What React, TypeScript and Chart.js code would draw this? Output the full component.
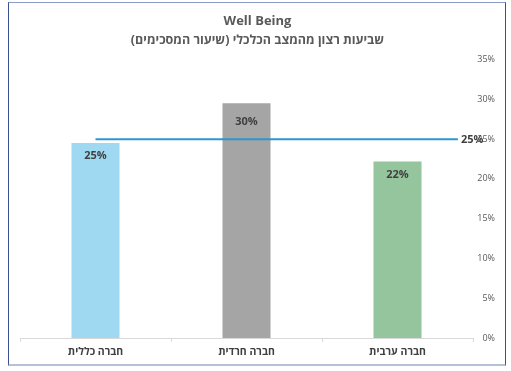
import React, { useEffect, useRef } from "react";
import { Chart, registerables } from "chart.js";

Chart.register(...registerables);

const titleText = "Well Being";
const subtitleText = "שביעות רצון מהמצב הכלכלי (שיעור המסכימים)";
const categories = ["חברה כללית", "חברה חרדית", "חברה ערבית"];
const values = [24.5, 29.5, 22.2];
const valueLabels = ["25%", "30%", "22%"];
const barColors = ["#9fd8f1", "#a5a5a5", "#94c59d"];
const benchmarkValue = 25;
const benchmarkLabel = "25%";
const benchmarkStartX = 0;
const benchmarkEndX = 2.4;
const yMin = 0;
const yMax = 35;
const yStep = 5;

const FONT = "'Open Sans', 'Liberation Sans', 'DejaVu Sans', sans-serif";
const labelOffsets = [13, 19, 13];

const labelPlugin = {
  id: "valueLabels",
  afterDatasetsDraw(chart: any) {
    const ctx = chart.ctx;
    ctx.save();
    ctx.font = `bold 11px ${FONT}`;
    ctx.fillStyle = "#404040";
    ctx.textAlign = "center";
    ctx.textBaseline = "middle";
    const barMeta = chart.getDatasetMeta(0);
    barMeta.data.forEach((bar: any, i: number) => {
      ctx.fillText(valueLabels[i], bar.x, bar.y + labelOffsets[i]);
    });
    const lineMeta = chart.getDatasetMeta(1);
    const last = lineMeta.data[lineMeta.data.length - 1];
    ctx.textAlign = "left";
    ctx.fillText(benchmarkLabel, last.x + 3, last.y + 1);
    ctx.restore();
  },
};

export default function App() {
  const ref = useRef<HTMLCanvasElement | null>(null);
  useEffect(() => {
    if (!ref.current) return;
    const chart = new Chart(ref.current, {
      type: "bar",
      data: {
        labels: categories,
        datasets: [
          {
            type: "bar",
            data: values,
            backgroundColor: barColors,
            barPercentage: 0.318,
            categoryPercentage: 1,
            grouped: false,
            order: 1,
            xAxisID: "x",
            yAxisID: "y",
          } as any,
          {
            type: "line",
            data: [
              { x: benchmarkStartX, y: benchmarkValue },
              { x: benchmarkEndX, y: benchmarkValue },
            ],
            borderColor: "#2b97d0",
            borderWidth: 2,
            pointRadius: 0,
            order: 0,
            xAxisID: "x2",
            yAxisID: "y",
          } as any,
        ],
      },
      options: {
        animation: false,
        responsive: false,
        maintainAspectRatio: false,
        layout: { padding: { left: 20, right: 16, top: 10, bottom: 11 } },
        plugins: {
          legend: { display: false },
          tooltip: { enabled: false },
          title: {
            display: true,
            text: titleText,
            color: "#595959",
            font: { family: FONT, size: 13, weight: "bold" },
            padding: { top: 3.5, bottom: 4 },
          },
          subtitle: {
            display: true,
            text: subtitleText,
            color: "#595959",
            font: { family: FONT, size: 12.5, weight: "bold" },
            padding: { top: 0, bottom: 11.5 },
          },
        },
        scales: {
          x: {
            type: "category",
            offset: true,
            grid: {
              offset: true,
              drawOnChartArea: false,
              drawTicks: true,
              tickLength: 4,
              color: "#d9d9d9",
            },
            border: { display: true, color: "#d9d9d9" },
            ticks: {
              color: "#404040",
              font: { family: FONT, size: 10.5, weight: "bold" },
              padding: 4,
              maxRotation: 0,
            },
            afterFit(scale: any) {
              scale.height = 22;
            },
          },
          x2: {
            type: "linear",
            display: false,
            offset: false,
            min: -0.5,
            max: 2.5,
          },
          y: {
            position: "right",
            min: yMin,
            max: yMax,
            grid: { display: false },
            border: { display: false },
            ticks: {
              stepSize: yStep,
              color: "#595959",
              crossAlign: "far",
              font: { family: FONT, size: 9 },
              callback: (v: any) => `${v}%`,
            },
            afterFit(scale: any) {
              scale.width = 22;
            },
          },
        },
      } as any,
      plugins: [labelPlugin],
    });
    return () => chart.destroy();
  }, []);

  return (
    <div style={{ position: "absolute", left: 0, top: 0, width: 511, height: 371 }}>
      <canvas
        ref={ref}
        dir="rtl"
        width={511}
        height={371}
        style={{ position: "absolute", left: 0, top: 0, width: 511, height: 371 }}
      />
      <div
        style={{
          position: "absolute",
          left: 8,
          top: 2,
          width: 498,
          height: 364,
          boxSizing: "border-box",
          borderLeft: "1px solid #3b4f93",
          borderRight: "1px solid #3b4f93",
          borderTop: "1px solid #8a9cc5",
          borderBottom: "2px solid #b6c0d7",
          pointerEvents: "none",
        }}
      />
    </div>
  );
}
